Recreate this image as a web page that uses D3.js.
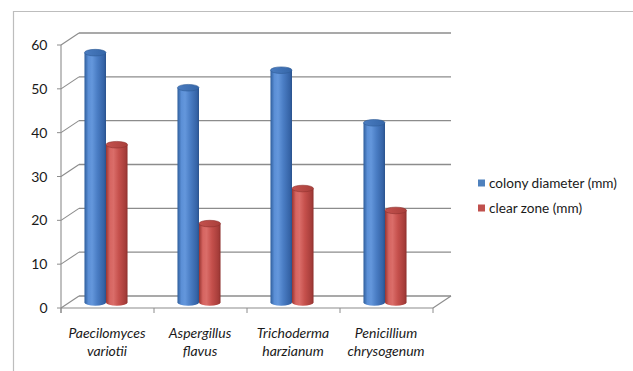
<!DOCTYPE html>
<html><head><meta charset="utf-8">
<script src="https://cdn.jsdelivr.net/npm/d3@7"></script>
<style>
html,body{margin:0;padding:0;background:#fff;}
svg{display:block;}
text{font-family:Lato,"Open Sans",sans-serif;fill:#1a1a1a;}
</style></head><body>
<script>
const categories = [["Paecilomyces","variotii"],["Aspergillus","flavus"],["Trichoderma","harzianum"],["Penicillium","chrysogenum"]];
const seriesNames = ["colony diameter (mm)","clear zone (mm)"];
const colonyDiameter = [57,49,53,41];
const clearZone = [36,18,26,21];
const yTicks = [0,10,20,30,40,50,60];

const W=633,H=371;
const svg=d3.select("body").append("svg").attr("width",W).attr("height",H);
const defs=svg.append("defs");
function grad(id,stops){
  const g=defs.append("linearGradient").attr("id",id).attr("x1","0").attr("x2","1").attr("y1","0").attr("y2","0");
  stops.forEach(s=>g.append("stop").attr("offset",s[0]).attr("stop-color",s[1]));
}
grad("gBlue",[[0,"#2f5e9c"],[0.18,"#5b8fd6"],[0.35,"#6497dc"],[0.6,"#4a7dc4"],[0.9,"#3563a6"],[1,"#2a528c"]]);
grad("gRed",[[0,"#983431"],[0.18,"#d66561"],[0.35,"#da6d69"],[0.6,"#c5504c"],[0.9,"#a63d3a"],[1,"#8e302d"]]);
grad("gBlueTop",[[0,"#4a7cc0"],[1,"#3566a8"]]);
grad("gRedTop",[[0,"#c4524e"],[1,"#a93f3b"]]);

// chart frame
svg.append("line").attr("x1",13).attr("x2",W).attr("y1",11.5).attr("y2",11.5).attr("stroke","#bdbdbd").attr("stroke-width",1.2);
svg.append("line").attr("x1",13.5).attr("x2",13.5).attr("y1",11).attr("y2",H).attr("stroke","#bdbdbd").attr("stroke-width",1.2);

const x0=61,x1=433;
const depthX=18, depthY=-12;
const x=d3.scaleBand().domain(d3.range(categories.length)).range([x0,x1]);
const y=d3.scaleLinear().domain([0,60]).range([308,45]);
const xs=d3.scaleBand().domain([0,1]).range([0,x.bandwidth()]).paddingOuter(1.16).paddingInner(0);

const gridColor="#8c8c8c";
yTicks.forEach(t=>{
  const yy=y(t);
  svg.append("line").attr("x1",x0+depthX).attr("x2",x1+depthX).attr("y1",yy+depthY).attr("y2",yy+depthY).attr("stroke",gridColor).attr("stroke-width",1.3);
  svg.append("line").attr("x1",x0).attr("x2",x0+depthX).attr("y1",yy).attr("y2",yy+depthY).attr("stroke",gridColor).attr("stroke-width",1.1);
  svg.append("line").attr("x1",x0-4).attr("x2",x0).attr("y1",yy).attr("y2",yy).attr("stroke",gridColor).attr("stroke-width",1);
  svg.append("text").attr("x",47.5).attr("y",yy+5).attr("text-anchor","end").attr("font-size",14).text(t);
});
svg.append("line").attr("x1",x0).attr("x2",x0).attr("y1",y(60)).attr("y2",y(0)+5).attr("stroke",gridColor).attr("stroke-width",1.1);
svg.append("line").attr("x1",x0).attr("x2",x1).attr("y1",y(0)).attr("y2",y(0)).attr("stroke",gridColor).attr("stroke-width",1.2);
svg.append("line").attr("x1",x1).attr("x2",x1+depthX).attr("y1",y(0)).attr("y2",y(0)+depthY).attr("stroke",gridColor).attr("stroke-width",1.1);
d3.range(categories.length+1).forEach(i=>{
  const xx=x0+i*x.bandwidth();
  svg.append("line").attr("x1",xx).attr("x2",xx).attr("y1",y(0)).attr("y2",y(0)+5).attr("stroke",gridColor).attr("stroke-width",1);
});

const midY=depthY/2+0.5;
const ry=3.3;
const seriesData=[colonyDiameter,clearZone];
const fills=[["url(#gBlue)","url(#gBlueTop)","#2d5a96"],["url(#gRed)","url(#gRedTop)","#8f302d"]];
categories.forEach((c,i)=>{
  seriesData.forEach((vals,s)=>{
    const bx=x(i)+xs(s)-1.5, bw=xs.bandwidth();
    const yb=y(0)+midY, yt=y(vals[i])+midY;
    const g=svg.append("g");
    g.append("ellipse").attr("cx",bx+bw/2).attr("cy",yb).attr("rx",bw/2).attr("ry",ry).attr("fill",fills[s][0]);
    g.append("rect").attr("x",bx).attr("y",yt).attr("width",bw).attr("height",yb-yt).attr("fill",fills[s][0]);
    g.append("ellipse").attr("cx",bx+bw/2).attr("cy",yt).attr("rx",bw/2).attr("ry",ry).attr("fill",fills[s][1]).attr("stroke",fills[s][2]).attr("stroke-width",0.6);
  });
  const t=svg.append("text").attr("text-anchor","middle").attr("font-size",14).attr("font-style","italic");
  t.append("tspan").attr("x",x(i)+x.bandwidth()/2-0.5).attr("y",338).text(c[0]);
  t.append("tspan").attr("x",x(i)+x.bandwidth()/2-0.5).attr("y",356).text(c[1]);
});

const legColors=["#4f81bd","#c0504d"];
seriesNames.forEach((n,i)=>{
  const ly=183+i*25;
  svg.append("rect").attr("x",478).attr("y",ly-3.5).attr("width",7).attr("height",7).attr("fill",legColors[i]);
  svg.append("text").attr("x",489).attr("y",ly+5).attr("font-size",13.6).text(n);
});
</script>
</body></html>
